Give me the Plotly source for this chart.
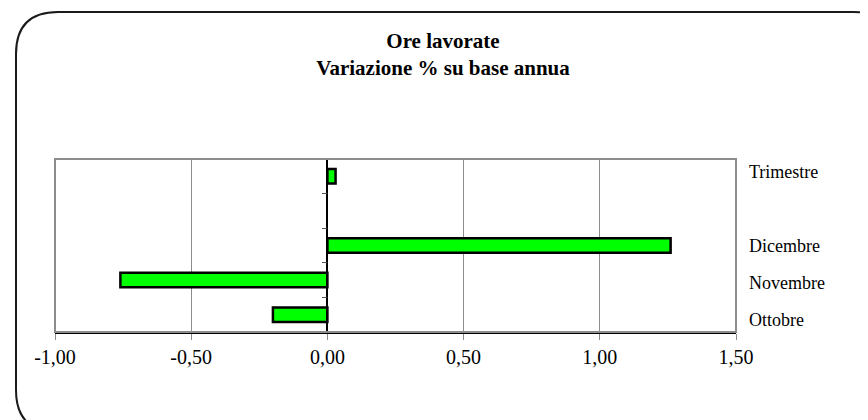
import plotly.graph_objects as go

# data
categories = ["Ottobre", "Novembre", "Dicembre", " ", "Trimestre"]
variazione = [-0.20, -0.76, 1.26, None, 0.03]
tick_vals = [-1.0, -0.5, 0.0, 0.5, 1.0, 1.5]
tick_text = ["-1,00", "-0,50", "0,00", "0,50", "1,00", "1,50"]

# the page puts the figure 8px in from the top-left corner
W, H = 868, 420
ML, MR, MT, MB = 47, 140, 151, 96
PW, PH = W - ML - MR, H - MT - MB


def px(x):
    return (x - ML) / PW


def py(y):
    return (H - MB - y) / PH


fig = go.Figure()
fig.add_trace(go.Bar(
    y=categories, x=variazione, orientation='h', width=0.42,
    marker=dict(color='#00FF00', line=dict(color='black', width=2.5)),
    hoverinfo='x+y', showlegend=False,
))
# invisible trace so the right-hand label axis gets drawn
fig.add_trace(go.Scatter(
    y=categories, x=[0] * len(categories), yaxis='y2', mode='markers',
    marker=dict(opacity=0), hoverinfo='skip', showlegend=False,
))

# rounded frame around the whole chart (runs off the page bottom/right)
l, t, r, b, rad = 8, 4, 887, 424, 42
path = (f"M {px(l)},{py(t + rad)} Q {px(l)},{py(t)} {px(l + rad)},{py(t)} "
        f"L {px(r - rad)},{py(t)} Q {px(r)},{py(t)} {px(r)},{py(t + rad)} "
        f"L {px(r)},{py(b - rad)} Q {px(r)},{py(b)} {px(r - rad)},{py(b)} "
        f"L {px(l + rad)},{py(b)} Q {px(l)},{py(b)} {px(l)},{py(b - rad)} Z")
fig.add_shape(type='path', path=path, xref='paper', yref='paper',
              line=dict(color='#1a1a1a', width=2), layer='below')
# gray plot border
fig.add_shape(type='rect', x0=0, x1=1, y0=0, y1=1, xref='paper', yref='paper',
              line=dict(color='#8c8c8c', width=2), layer='above')

fig.update_layout(
    width=W, height=H,
    margin=dict(l=ML, r=MR, t=MT, b=MB),
    paper_bgcolor='white', plot_bgcolor='white',
    font=dict(family='Liberation Serif', color='black', size=18),
    title=dict(
        text='<b>Ore lavorate</b><br><b>Variazione % su base annua</b>',
        x=435 / W, xref='container', xanchor='center',
        y=1 - 40 / H, yref='container', yanchor='middle',
        font=dict(size=21, family='Liberation Serif'),
    ),
    xaxis=dict(
        range=[-1, 1.5], tickvals=tick_vals, ticktext=tick_text,
        showgrid=True, gridcolor='#8c8c8c', gridwidth=1,
        zeroline=False, showline=True, linecolor='black', linewidth=1.5,
        ticks='outside', ticklen=6, tickcolor='#8c8c8c',
        tickfont=dict(size=20), fixedrange=True,
    ),
    yaxis=dict(
        type='category', categoryorder='array', categoryarray=categories,
        anchor='free', position=0.4, showticklabels=False,
        showline=True, linecolor='black', linewidth=1.5,
        ticks='outside', tickson='boundaries', ticklen=5, tickcolor='#555',
        showgrid=False, zeroline=False, fixedrange=True,
    ),
    yaxis2=dict(
        type='category', categoryorder='array', categoryarray=categories,
        overlaying='y', side='right', anchor='x',
        showline=False, ticks='', showgrid=False, zeroline=False,
        ticklabelstandoff=12, tickfont=dict(size=18), fixedrange=True,
    ),
)

fig.write_html("out.html")
